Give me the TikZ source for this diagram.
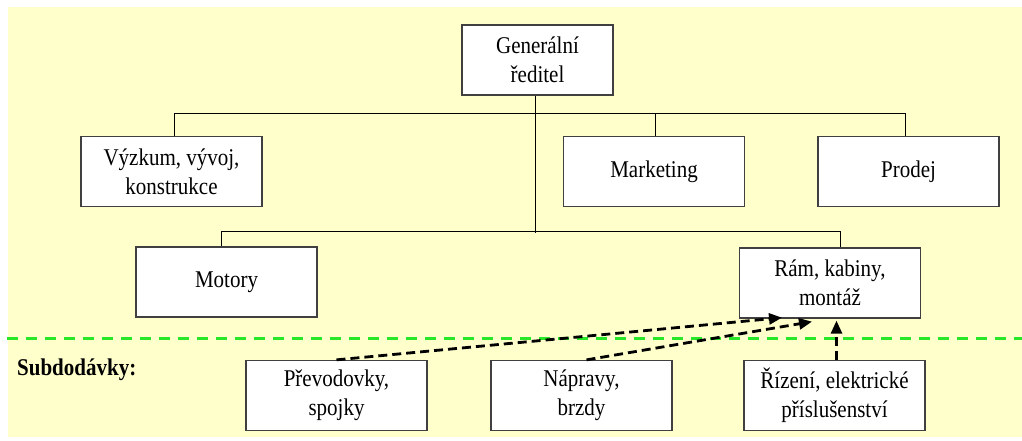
\documentclass[tikz,border=0pt]{standalone}
\usepackage{fontspec}
\setmainfont{Liberation Serif}[FakeStretch=0.875]
\usetikzlibrary{arrows.meta,calc}
\definecolor{bgyellow}{RGB}{255,255,204}
\definecolor{divgreen}{RGB}{40,230,40}
\tikzset{
  unitbox/.style={draw=black!75, fill=white, line width=1.3pt, minimum width=181pt,
    minimum height=70pt, inner sep=0pt, align=center,
    font=\fontsize{24}{29}\selectfont},
  conn/.style={draw=black, line width=1pt},
  supply/.style={draw=black, line width=2.8pt, dash pattern=on 9pt off 5pt,
    -{Triangle[length=13pt,width=11pt]}},
  divider/.style={draw=divgreen, line width=3pt, dash pattern=on 11pt off 8pt}
}
\begin{document}
\begin{tikzpicture}[x=1pt,y=-1pt]
  \useasboundingbox (0,0) rectangle (1022,441);
  \fill[bgyellow] (8,7) rectangle (1022,437);

  % management
  \node[unitbox, minimum width=151pt] (gr) at (537.5,60) {Generální\\ředitel};
  \node[unitbox] (vyz) at (171.5,171.5) {Výzkum, vývoj,\\konstrukce};
  \node[unitbox] (mkt) at (654,171.5) {Marketing};
  \node[unitbox] (pro) at (908.5,171.5) {Prodej};

  % production
  \node[unitbox] (mot) at (226.5,282) {Motory};
  \node[unitbox] (ram) at (830,283) {Rám, kabiny,\\montáž};

  % subcontractors
  \node[unitbox] (pre) at (336.5,395.5) {Převodovky,\\spojky};
  \node[unitbox] (nap) at (581.5,395.5) {Nápravy,\\brzdy};
  \node[unitbox] (riz) at (834.5,395.5) {Řízení, elektrické\\příslušenství};

  \node[anchor=base west, inner sep=0pt, font=\fontsize{24}{29}\selectfont\bfseries]
    (sub) at (17,375) {Subdodávky:};

  % organisational links
  \draw[conn] ($(vyz.north)+(2.5,0)$) -- ++(0,-22) -| ($(pro.north)+(-3.5,0)$);
  \draw[conn] ($(mkt.north)+(1.5,0)$) -- ++(0,-22);
  \draw[conn] ($(gr.south)+(-2.5,0)$) -- ++(0,137);
  \draw[conn] ($(mot.north)+(-5.5,0)$) -- ++(0,-15) -| ($(ram.north)+(10,0)$);

  % boundary of own production
  \coordinate (dl) at (7,338);
  \coordinate (dr) at (1022,338);
  \draw[divider] (dl) -- (dr);

  % supplies
  \draw[supply] (pre.north) -- ($(ram.south)+(-48,-1)$);
  \draw[supply] ($(nap.north)+(5,0)$) -- ($(ram.south)+(-18,3)$);
  \draw[supply] ($(riz.north)+(2,0)$) -- ($(ram.south)+(6.5,2)$);
\end{tikzpicture}
\end{document}
